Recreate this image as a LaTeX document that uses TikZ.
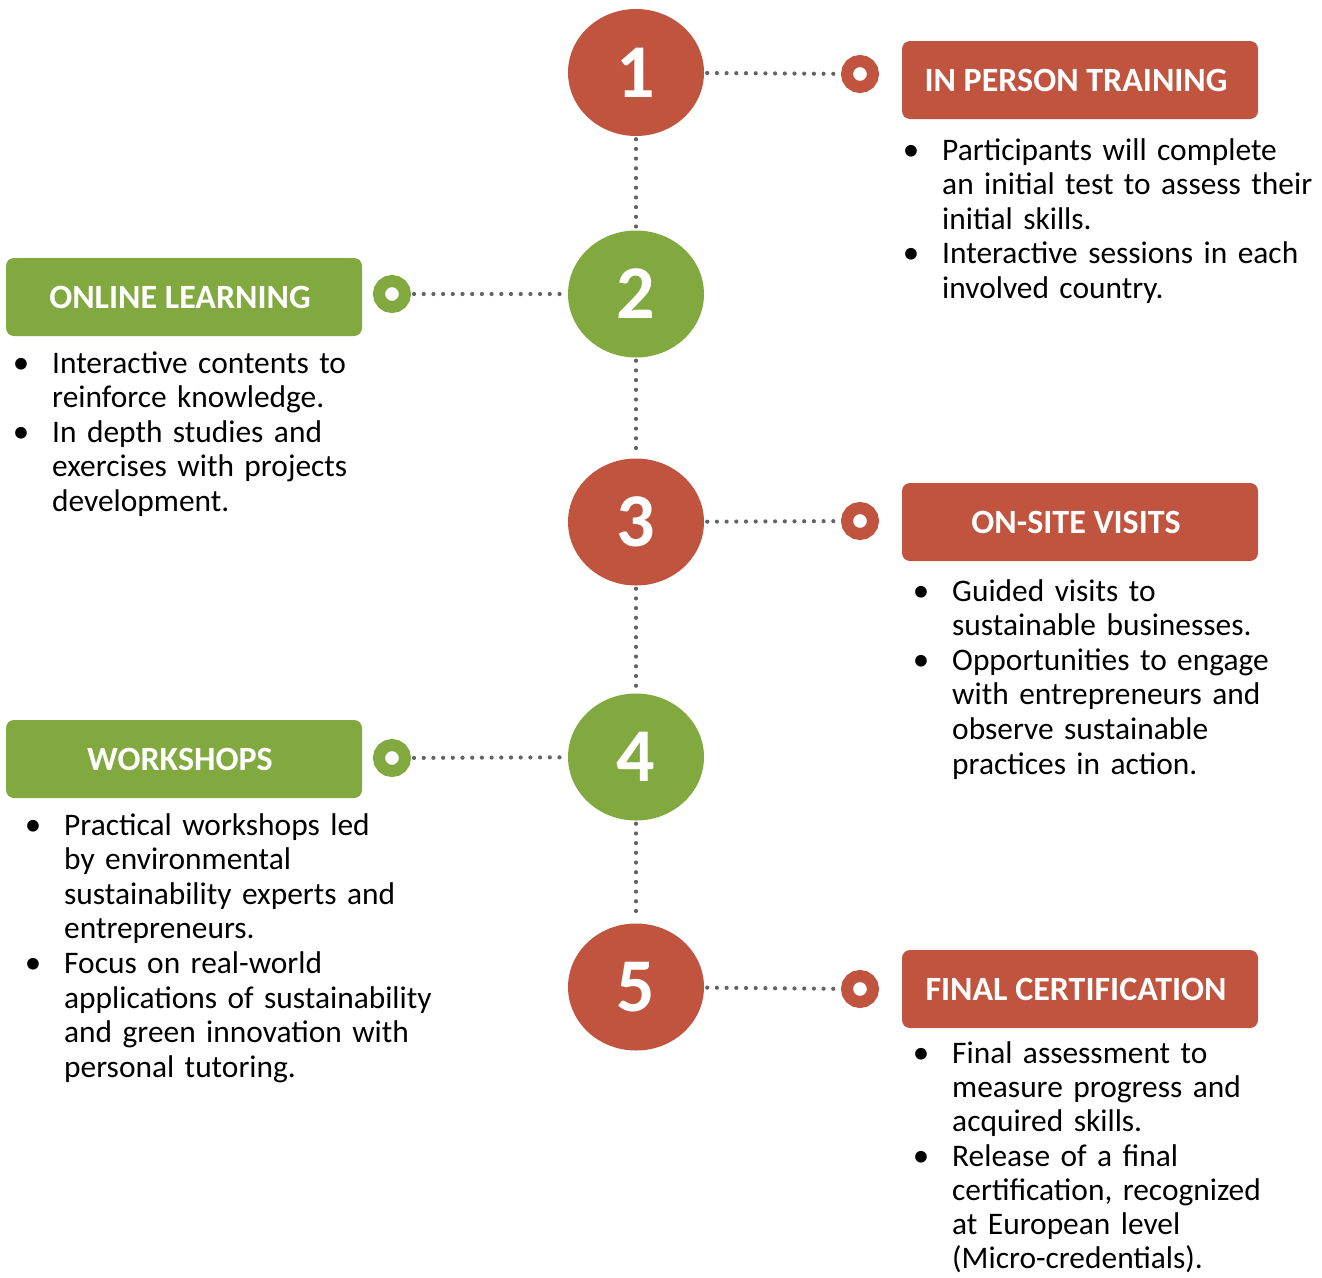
\documentclass[tikz,border=0pt]{standalone}
\usepackage{fontspec}
\setmainfont{Carlito}
\usetikzlibrary{shapes.geometric}
\definecolor{stepred}{HTML}{C0543F}
\definecolor{stepgreen}{HTML}{82A93F}
\definecolor{dotgray}{HTML}{636363}
\tikzset{
  stepcircle/.style={ellipse, minimum width=136pt, minimum height=127pt, inner sep=0pt, fill=#1, text=white,
    font={\fontsize{76}{80}\selectfont\bfseries}},
  ring/.style={circle, minimum size=26pt, inner sep=0pt, line width=12pt, draw=#1, fill=white},
  titlebox/.style={rectangle, rounded corners=8pt, minimum width=356pt, minimum height=78pt, inner sep=0pt,
    fill=#1, text=white, font={\fontsize{34}{40}\selectfont\bfseries}},
  dotline/.style={dotgray, line width=4.2pt, line cap=round, dash pattern=on 0pt off 9.7pt, shorten <=3pt, shorten >=3pt},
  bodytext/.style={anchor=base west, inner sep=0pt, text width=420pt, align=left,
    font={\fontsize{31.4}{34.6}\selectfont}},
  bodytight/.style={bodytext, font={\fontsize{31.4}{34.2}\selectfont}},
  bul/.style={anchor=base, inner sep=0pt, font={\fontsize{33}{34.6}\selectfont}}
}
\begin{document}
\begin{tikzpicture}[x=1pt, y=-1pt]
\useasboundingbox (0,0) rectangle (1322,1277);
% circles
\node[stepcircle=stepred] (c1) at (636,72.5) {1};
\node[stepcircle=stepgreen] (c2) at (636,294) {2};
\node[stepcircle=stepred] (c3) at (636,522) {3};
\node[stepcircle=stepgreen] (c4) at (636,757) {4};
\node[stepcircle=stepred] (c5) at (636,987) {5};
% rings
\node[ring=stepred] (r1) at (860,74) {};
\node[ring=stepgreen] (r2) at (392,294) {};
\node[ring=stepred] (r3) at (860,521) {};
\node[ring=stepgreen] (r4) at (392,758) {};
\node[ring=stepred] (r5) at (860,989) {};
% title boxes
\node[titlebox=stepred] (b1) at (1080,80) {IN PERSON TRAINING\hspace*{8pt}};
\node[titlebox=stepgreen] (b2) at (184,297) {ONLINE LEARNING\hspace*{8pt}};
\node[titlebox=stepred] (b3) at (1080,522) {ON-SITE VISITS\hspace*{8pt}};
\node[titlebox=stepgreen] (b4) at (184,759) {WORKSHOPS\hspace*{8pt}};
\node[titlebox=stepred] (b5) at (1080,989) {FINAL CERTIFICATION\hspace*{8pt}};
% connectors
\draw[dotline] (c1) -- (c2);
\draw[dotline] (c2) -- (c3);
\draw[dotline] (c3) -- (c4);
\draw[dotline] (c4) -- (c5);
\draw[dotline] (c1) -- (r1);
\draw[dotline] (r2) -- (c2);
\draw[dotline] (c3) -- (r3);
\draw[dotline] (r4) -- (c4);
\draw[dotline] (c5) -- (r5);
% step 1 text
\node[bul] (p1a) at (911,160) {•};
\node[bodytext] (t1a) at (942,160) {Participants will complete\\an initial test to assess their\\initial skills.};
\node[bul] (p1b) at (911,263.8) {•};
\node[bodytext] (t1b) at (942,263.8) {Interactive sessions in each\\involved country.};
% step 2 text
\node[bul] (p2a) at (21,373) {•};
\node[bodytext] (t2a) at (52,373) {Interactive contents to\\reinforce knowledge.};
\node[bul] (p2b) at (21,442.2) {•};
\node[bodytext] (t2b) at (52,442.2) {In depth studies and\\exercises with projects\\development.};
% step 3 text
\node[bul] (p3a) at (921,601) {•};
\node[bodytext] (t3a) at (952,601) {Guided visits to\\sustainable businesses.};
\node[bul] (p3b) at (921,670.2) {•};
\node[bodytext] (t3b) at (952,670.2) {Opportunities to engage\\with entrepreneurs and\\observe sustainable\\practices in action.};
% step 4 text
\node[bul] (p4a) at (33,835) {•};
\node[bodytext] (t4a) at (64,835) {Practical workshops led\\by environmental\\sustainability experts and\\entrepreneurs.};
\node[bul] (p4b) at (33,973.4) {•};
\node[bodytext] (t4b) at (64,973.4) {Focus on real-world\\applications of sustainability\\and green innovation with\\personal tutoring.};
% step 5 text
\node[bul] (p5a) at (921,1063.5) {•};
\node[bodytight] (t5a) at (952,1063.5) {Final assessment to\\measure progress and\\acquired skills.};
\node[bul] (p5b) at (921,1166.1) {•};
\node[bodytight] (t5b) at (952,1166.1) {Release of a final\\certification, recognized\\at European level\\(Micro-credentials).};
\end{tikzpicture}
\end{document}
